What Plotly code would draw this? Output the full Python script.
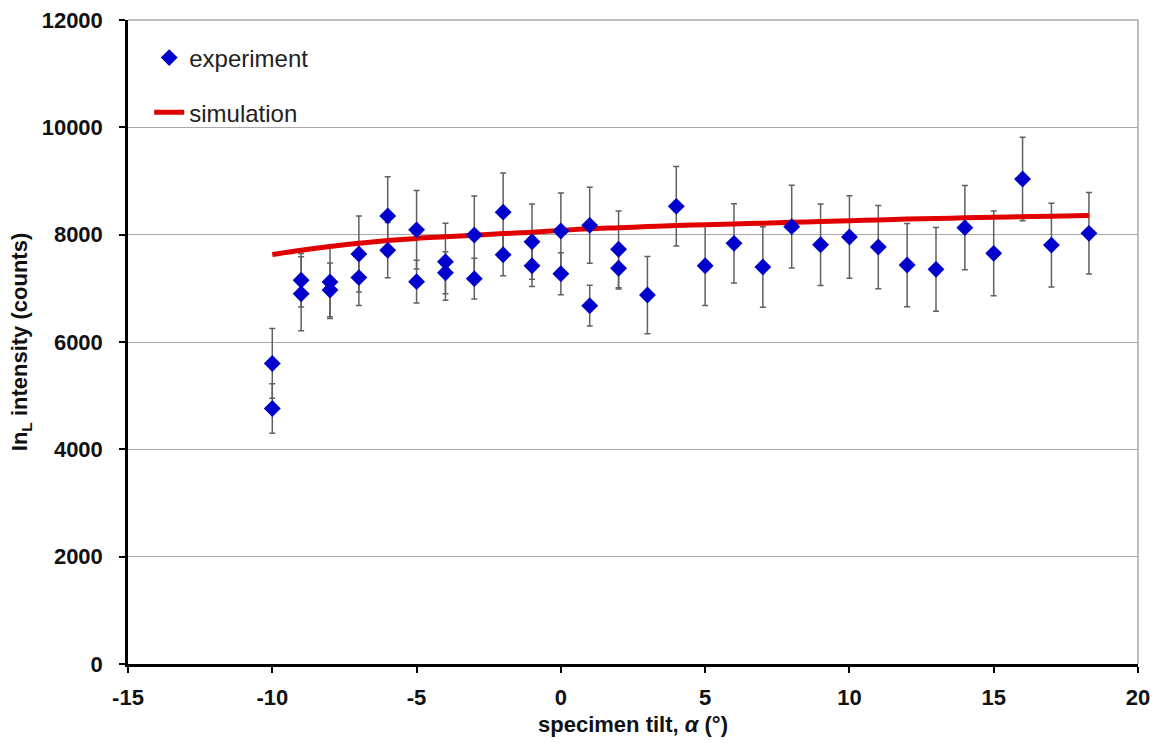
import plotly.graph_objects as go

# experimental data (tilt in degrees, intensity counts, error)
exp_x = [-10, -10, -9, -9, -8, -8, -7, -7, -6, -6, -5, -5, -4, -4, -3, -3, -2, -2,
         -1, -1, 0, 0, 1, 1, 2, 2, 3, 4, 5, 6, 7, 8, 9, 10, 11, 12, 13, 14, 15, 16, 17, 18.3]
exp_y = [5600, 4760, 7150, 6900, 7120, 6970, 7640, 7200, 8350, 7710, 8090, 7125, 7495, 7290,
         7993, 7180, 8420, 7626, 7869, 7422, 8068, 7272, 8174, 6676, 7727, 7373, 6875, 8528,
         7422, 7838, 7398, 8149, 7813, 7956, 7769, 7434, 7354, 8131, 7652, 9037, 7806, 8025]
exp_err = [650, 460, 500, 690, 680, 500, 710, 520, 727, 515, 732, 400, 716, 390,
           727, 380, 727, 390, 702, 386, 708, 390, 708, 380, 714, 385, 720, 740,
           740, 740, 750, 770, 760, 770, 775, 775, 780, 785, 790, 776, 780, 760]

# simulation curve
sim_x = [-10, -9, -8, -7, -6, -5, -4, -3, -2, -1, 0, 1, 2, 3, 4, 5, 6, 7, 8, 9,
         10, 11, 12, 13, 14, 15, 16, 17, 18.3]
sim_y = [7630, 7710, 7780, 7840, 7890, 7930, 7960, 7990, 8020, 8045, 8080, 8110, 8130,
         8150, 8170, 8185, 8200, 8215, 8230, 8245, 8260, 8275, 8290, 8300, 8315, 8325,
         8335, 8345, 8355]

x_ticks = [-15, -10, -5, 0, 5, 10, 15, 20]
y_ticks = [0, 2000, 4000, 6000, 8000, 10000, 12000]

FONT = "Arial, 'Liberation Sans', sans-serif"
TXT = "#111111"

fig = go.Figure()

# error bars (drawn beneath the simulation line)
fig.add_trace(go.Scatter(
    x=exp_x, y=exp_y, mode="markers",
    marker=dict(symbol="diamond", size=13, color="rgba(0,0,0,0)"),
    error_y=dict(type="data", array=exp_err, visible=True,
                 color="#606060", thickness=1.5, width=3),
    showlegend=False, hoverinfo="skip",
))

fig.add_trace(go.Scatter(
    x=sim_x, y=sim_y, mode="lines", name="simulation",
    line=dict(color="#E00000", width=5, shape="spline"),
    legend="legend2",
))

fig.add_trace(go.Scatter(
    x=exp_x, y=exp_y, mode="markers", name="experiment",
    marker=dict(symbol="diamond", size=13, color="#0000CC"),
    legend="legend",
))

fig.update_layout(
    width=1158, height=743,
    margin=dict(l=128, r=20, t=20, b=79, autoexpand=False),
    paper_bgcolor="white", plot_bgcolor="white",
    font=dict(family=FONT, size=22, color=TXT),
    legend=dict(x=0.021, y=0.941, xanchor="left", yanchor="middle",
                bgcolor="rgba(0,0,0,0)", font=dict(size=24, color="#222222")),
    legend2=dict(x=0.021, y=0.856, xanchor="left", yanchor="middle",
                 bgcolor="rgba(0,0,0,0)", font=dict(size=24, color="#222222")),
    xaxis=dict(
        range=[-15, 20], tickvals=x_ticks, ticktext=[str(v) for v in x_ticks],
        showgrid=False, zeroline=False, automargin=False,
        showline=True, linecolor="black", linewidth=2.5,
        ticks="outside", ticklen=6, tickwidth=2, tickcolor="black",
        ticklabelstandoff=6,
        tickfont=dict(family=FONT, size=22, color=TXT, weight="bold"),
        title=dict(text="<b>specimen tilt, <i>α</i> (°)</b>", standoff=8,
                   font=dict(family=FONT, size=22, color=TXT)),
    ),
    yaxis=dict(
        range=[0, 12000], tickvals=y_ticks, ticktext=[str(v) for v in y_ticks],
        showgrid=True, gridcolor="#A8A8A8", gridwidth=1, zeroline=False,
        automargin=False,
        showline=True, linecolor="black", linewidth=2.5,
        ticks="outside", ticklen=6, tickwidth=2, tickcolor="black",
        ticklabelstandoff=12,
        tickfont=dict(family=FONT, size=22, color=TXT, weight="bold"),
        title=dict(text="<b>In<sub>L</sub> intensity (counts)</b>", standoff=8,
                   font=dict(family=FONT, size=22, color=TXT)),
    ),
    shapes=[
        dict(type="line", xref="paper", yref="paper", x0=1, x1=1, y0=0, y1=1,
             line=dict(color="#A8A8A8", width=1.5)),
        dict(type="line", xref="paper", yref="paper", x0=0, x1=1, y0=1, y1=1,
             line=dict(color="#A8A8A8", width=1.5)),
    ],
)

fig.write_html("out.html")
